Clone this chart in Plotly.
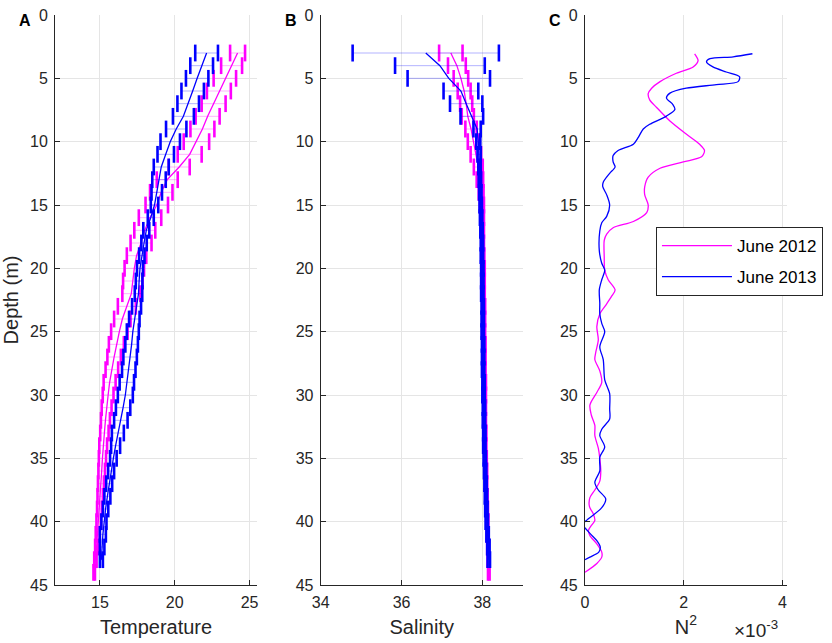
import numpy as np
import plotly.graph_objects as go

# depths (m) of the averaged profiles
depth_2012 = list(range(3, 45))
depth_2013 = list(range(3, 44))

# Panel A: temperature mean and std
temp_2012 = [24.2, 23.8, 23.35, 22.95, 22.6, 22.2, 21.85, 21.45, 21.0, 20.3,
             19.5, 19.1, 18.8, 18.35, 18.0, 17.75, 17.45, 17.3, 17.2, 17.1,
             16.8, 16.5, 16.3, 16.1, 15.95, 15.8, 15.65, 15.55, 15.45, 15.37,
             15.3, 15.22, 15.17, 15.12, 15.07, 15.02, 14.97, 14.92, 14.85, 14.78,
             14.7, 14.62]
temp_2012_sd = [0.5, 0.7, 0.75, 0.8, 0.8, 0.8, 0.8, 0.85, 0.8, 0.7,
                0.7, 0.75, 0.75, 0.75, 0.7, 0.7, 0.65, 0.65, 0.65, 0.6,
                0.6, 0.55, 0.55, 0.5, 0.45, 0.42, 0.4, 0.36, 0.33, 0.3,
                0.28, 0.26, 0.24, 0.22, 0.2, 0.18, 0.16, 0.15, 0.13, 0.1,
                0.08, 0.05]
temp_2013 = [22.13, 21.8, 21.5, 21.2, 20.9, 20.58, 20.1, 19.7, 19.4, 19.1,
             18.95, 18.8, 18.65, 18.4, 18.1, 17.95, 17.8, 17.68, 17.62, 17.58,
             17.45, 17.3, 17.2, 17.12, 17.02, 16.93, 16.8, 16.7, 16.55, 16.4,
             16.2, 16.05, 15.9, 15.75, 15.62, 15.5, 15.38, 15.27, 15.2, 15.15,
             15.1]
temp_2013_sd = [0.76, 0.76, 0.75, 0.75, 0.72, 0.7, 0.68, 0.65, 0.55, 0.5,
                0.45, 0.35, 0.25, 0.2, 0.2, 0.18, 0.18, 0.2, 0.22, 0.25,
                0.3, 0.35, 0.4, 0.42, 0.45, 0.45, 0.48, 0.5, 0.48, 0.45,
                0.4, 0.3, 0.22, 0.2, 0.2, 0.2, 0.18, 0.17, 0.2, 0.15,
                0.1]

# Panel B: salinity mean and std
sal_2012 = [37.22, 37.37, 37.47, 37.55, 37.6, 37.64, 37.72, 37.78, 37.84, 37.9,
            37.94, 37.97, 37.99, 38.0, 38.01, 38.01, 38.02, 38.03, 38.03, 38.03,
            38.04, 38.04, 38.04, 38.05, 38.05, 38.05, 38.06, 38.06, 38.07, 38.07,
            38.08, 38.08, 38.09, 38.1, 38.1, 38.11, 38.12, 38.13, 38.13, 38.14,
            38.15, 38.16]
sal_2012_sd = [0.29, 0.22, 0.18, 0.16, 0.15, 0.15, 0.14, 0.14, 0.13, 0.11,
               0.08, 0.06, 0.05, 0.04, 0.03, 0.03, 0.03, 0.03, 0.03, 0.03,
               0.03, 0.03, 0.03, 0.03, 0.03, 0.03, 0.03, 0.03, 0.02, 0.02,
               0.02, 0.02, 0.02, 0.02, 0.02, 0.02, 0.02, 0.02, 0.02, 0.02,
               0.02, 0.02]
sal_2013 = [36.6, 36.95, 37.17, 37.47, 37.6, 37.74, 37.87, 37.9, 37.92, 37.93,
            37.94, 37.95, 37.96, 37.97, 37.98, 37.99, 37.99, 38.0, 38.0, 38.0,
            38.01, 38.01, 38.01, 38.02, 38.02, 38.02, 38.03, 38.03, 38.04, 38.04,
            38.05, 38.05, 38.06, 38.07, 38.08, 38.09, 38.1, 38.11, 38.13, 38.15,
            38.16]
sal_2013_sd = [1.81, 1.11, 1.02, 0.43, 0.4, 0.28, 0.09, 0.05, 0.04, 0.03,
               0.03, 0.03, 0.03, 0.03, 0.03, 0.03, 0.03, 0.03, 0.03, 0.03,
               0.03, 0.03, 0.03, 0.03, 0.03, 0.03, 0.03, 0.03, 0.03, 0.03,
               0.03, 0.03, 0.03, 0.03, 0.03, 0.03, 0.03, 0.03, 0.03, 0.03,
               0.03]

# Panel C: buoyancy frequency squared (x 1e-3)
n2_depth_2012 = [3.06, 3.6, 4.1, 4.6, 5.26, 5.78, 6.2, 6.7, 7.3, 8.37,
                 9.4, 10.2, 10.7, 11.2, 11.6, 12.1, 12.8, 13.55, 14.2, 15.0,
                 15.6, 16.3, 16.8, 17.3, 17.8, 19.1, 20.15, 20.9, 21.7, 22.2,
                 22.8, 23.6, 24.6, 25.65, 26.6, 27.2, 28.1, 29.0, 29.8, 30.8,
                 31.6, 32.4, 33.2, 34.2, 35.0, 36.0, 36.8, 37.5, 38.1, 38.8,
                 39.4, 39.9, 40.3, 40.7, 41.1, 41.75, 42.4, 42.8, 43.3, 44.0]
n2_2012 = [2.22, 2.29, 2.19, 1.85, 1.52, 1.35, 1.28, 1.31, 1.45, 1.72,
           2.05, 2.32, 2.42, 2.36, 1.99, 1.52, 1.28, 1.21, 1.21, 1.28,
           1.25, 0.98, 0.57, 0.44, 0.39, 0.39, 0.40, 0.47, 0.61, 0.54,
           0.44, 0.30, 0.24, 0.27, 0.22, 0.20, 0.30, 0.34, 0.24, 0.10,
           0.13, 0.20, 0.20, 0.27, 0.30, 0.32, 0.30, 0.20, 0.10, 0.09,
           0.17, 0.20, 0.13, 0.07, 0.10, 0.24, 0.34, 0.34, 0.24, 0.0]
n2_depth_2013 = [3.06, 3.3, 3.45, 3.7, 4.1, 4.5, 4.87, 5.26, 5.5, 5.78,
                 6.17, 6.55, 7.07, 7.46, 7.98, 8.63, 9.0, 9.66, 10.2, 10.7,
                 11.1, 11.6, 12.0, 12.5, 13.2, 13.55, 14.2, 15.0, 15.9, 16.4,
                 17.05, 18.6, 19.6, 20.15, 20.9, 21.7, 22.75, 23.6, 24.35, 25.0,
                 26.2, 27.2, 28.8, 29.9, 31.1, 31.9, 32.7, 33.2, 34.1, 34.9,
                 36.0, 36.9, 37.5, 38.2, 38.9, 39.9, 40.2, 40.5, 41.0, 41.5,
                 42.0, 42.4, 42.8, 43.0]
n2_2013 = [3.39, 3.0, 2.53, 2.46, 2.59, 2.86, 3.13, 3.1, 2.66, 2.05,
           1.72, 1.65, 1.78, 1.82, 1.65, 1.31, 1.18, 1.08, 0.98, 0.67,
           0.57, 0.57, 0.61, 0.5, 0.37, 0.36, 0.44, 0.5, 0.44, 0.34,
           0.3, 0.29, 0.34, 0.40, 0.34, 0.29, 0.3, 0.30, 0.34, 0.40,
           0.30, 0.37, 0.40, 0.50, 0.50, 0.50, 0.34, 0.30, 0.40, 0.30,
           0.30, 0.20, 0.27, 0.42, 0.34, 0.03, -0.05, 0.0, 0.12, 0.24,
           0.31, 0.28, 0.1, 0.0]

MAGENTA = "#ff00ff"
BLUE = "#0000ff"
FONT = "Liberation Sans, Arial, sans-serif"
AX = "#262626"


def add_profile(fig, depth, mean, sd, color, light, xa, ya):
    mean = np.array(mean)
    sd = np.array(sd)
    # light horizontal error bars
    fig.add_trace(go.Scatter(x=mean, y=depth, mode="markers", xaxis=xa, yaxis=ya,
                             marker=dict(size=1, color="rgba(0,0,0,0)"),
                             error_x=dict(type="data", array=sd, visible=True,
                                          color=light, thickness=1, width=0),
                             showlegend=False, hoverinfo="skip"))
    # thick end caps
    fig.add_trace(go.Scatter(x=np.concatenate([mean - sd, mean + sd]),
                             y=list(depth) + list(depth), mode="markers",
                             xaxis=xa, yaxis=ya,
                             marker=dict(symbol="line-ns", size=12,
                                         line=dict(color=color, width=2.6)),
                             showlegend=False, hoverinfo="skip"))
    fig.add_trace(go.Scatter(x=mean, y=depth, mode="lines", xaxis=xa, yaxis=ya,
                             line=dict(color=color, width=1.3),
                             showlegend=False))


fig = go.Figure()
add_profile(fig, depth_2012, temp_2012, temp_2012_sd, MAGENTA, "rgba(255,0,255,0.3)", "x", "y")
add_profile(fig, depth_2013, temp_2013, temp_2013_sd, BLUE, "rgba(0,0,255,0.3)", "x", "y")
add_profile(fig, depth_2012, sal_2012, sal_2012_sd, MAGENTA, "rgba(255,0,255,0.3)", "x2", "y2")
add_profile(fig, depth_2013, sal_2013, sal_2013_sd, BLUE, "rgba(0,0,255,0.3)", "x2", "y2")

fig.add_trace(go.Scatter(x=n2_2012, y=n2_depth_2012, mode="lines", xaxis="x3", yaxis="y3",
                         line=dict(color=MAGENTA, width=1.3, shape="spline", smoothing=0.8),
                         name="June 2012", legendgroup="a"))
fig.add_trace(go.Scatter(x=n2_2013, y=n2_depth_2013, mode="lines", xaxis="x3", yaxis="y3",
                         line=dict(color=BLUE, width=1.3, shape="spline", smoothing=0.8),
                         name="June 2013", legendgroup="b"))

common = dict(showline=True, linecolor=AX, linewidth=1, ticks="inside", ticklen=5,
              tickcolor=AX, showgrid=True, gridcolor="#e5e5e5", gridwidth=1,
              zeroline=False, ticklabeloverflow="allow",
              tickfont=dict(size=16, color=AX, family=FONT),
              title_font=dict(size=20, color=AX, family=FONT))

yaxis = dict(common, range=[45, 0], tickvals=list(range(0, 50, 5)), ticklabelstandoff=3)
xcommon = dict(common, ticklabelstandoff=3)

fig.update_layout(
    width=832, height=643,
    margin=dict(l=55, r=45, t=7, b=58),
    plot_bgcolor="white", paper_bgcolor="white",
    font=dict(family=FONT, color=AX),
    xaxis=dict(xcommon, domain=[0, 0.276], range=[12, 25.5], tickvals=[15, 20, 25],
               title=dict(text="Temperature", standoff=9), anchor="y"),
    xaxis2=dict(xcommon, domain=[0.363, 0.639], range=[34, 39], tickvals=[34, 36, 38],
                title=dict(text="Salinity", standoff=9), anchor="y2"),
    xaxis3=dict(xcommon, domain=[0.724, 1.0], range=[0, 4.09], tickvals=[0, 2, 4],
                title=dict(text="N<sup>2</sup>", standoff=9), anchor="y3"),
    yaxis=dict(yaxis, anchor="x", title=dict(text="Depth (m)", standoff=8)),
    yaxis2=dict(yaxis, anchor="x2"),
    yaxis3=dict(yaxis, anchor="x3"),
    showlegend=True,
    legend=dict(x=0.821, y=0.628, xanchor="left", yanchor="top",
                bgcolor="white", bordercolor=AX, borderwidth=1,
                font=dict(size=17, color="black", family=FONT),
                traceorder="grouped", tracegroupgap=6, itemwidth=70),
)

for label, x0 in [("A", 0.0), ("B", 0.363), ("C", 0.724)]:
    fig.add_annotation(text="<b>%s</b>" % label, xref="paper", yref="paper",
                       x=x0, y=1, xanchor="right", yanchor="middle",
                       xshift=-22, yshift=-5, showarrow=False,
                       font=dict(size=16, color="black", family=FONT))

fig.add_annotation(text="×10<sup>-3</sup>", xref="paper", yref="paper",
                   x=0.958, y=-0.078, xanchor="center", yanchor="middle",
                   showarrow=False, font=dict(size=19, color=AX, family=FONT))

fig.write_html("out.html", config={"displayModeBar": False},
               post_script="document.body.style.margin='0px';")
